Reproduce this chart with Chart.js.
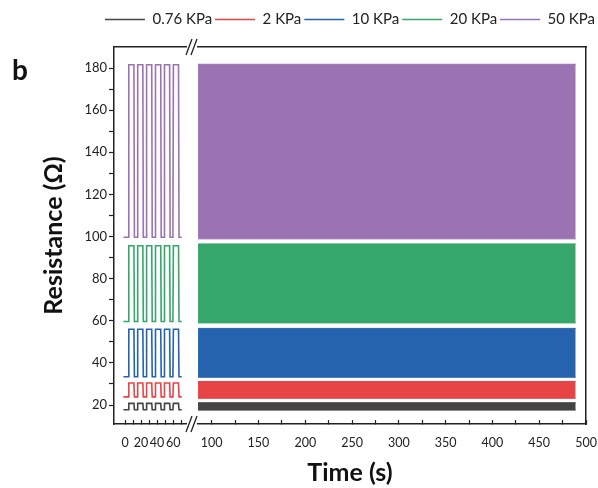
<!DOCTYPE html>
<html>
<head>
<meta charset="utf-8">
<script src="https://cdn.jsdelivr.net/npm/chart.js@4.4.0/dist/chart.umd.min.js"></script>
<style>
  html, body { margin: 0; padding: 0; background: #fff; }
</style>
</head>
<body>
<canvas id="mycanvas" width="598" height="488"></canvas>
<script>
var pressures = ["0.76 KPa", "2 KPa", "10 KPa", "20 KPa", "50 KPa"];
var colors = ["#444444", "#e74446", "#2663ae", "#35a76b", "#9b73b2"];

// first 6 loading cycles (left part of the broken axis)
var leftTime = [-2, 4.1, 4.7, 11.1, 11.7, 15.2, 15.8, 22.2, 22.8, 26.3, 26.9, 33.3, 33.9,
                37.4, 38.0, 44.5, 45.1, 48.6, 49.2, 55.6, 56.2, 59.7, 60.3, 66.7, 67.3, 70.7];
var wave076 = [17.8, 17.8, 20.8, 20.8, 17.8, 17.8, 20.8, 20.8, 17.8, 17.8, 20.8, 20.8, 17.8,
               17.8, 20.8, 20.8, 17.8, 17.8, 20.8, 20.8, 17.8, 17.8, 20.8, 20.8, 17.8, 17.8];
var wave2 = [23.9, 23.9, 30.5, 30.5, 23.9, 23.9, 30.5, 30.5, 23.9, 23.9, 30.5, 30.5, 23.9,
             23.9, 30.5, 30.5, 23.9, 23.9, 30.5, 30.5, 23.9, 23.9, 30.5, 30.5, 23.9, 23.9];
var wave10 = [33.4, 33.4, 56.0, 56.0, 33.4, 33.4, 56.0, 56.0, 33.4, 33.4, 56.0, 56.0, 33.4,
              33.4, 56.0, 56.0, 33.4, 33.4, 56.0, 56.0, 33.4, 33.4, 56.0, 56.0, 33.4, 33.4];
var wave20 = [59.7, 59.7, 95.6, 95.6, 59.7, 59.7, 95.6, 95.6, 59.7, 59.7, 95.6, 95.6, 59.7,
              59.7, 95.6, 95.6, 59.7, 59.7, 95.6, 95.6, 59.7, 59.7, 95.6, 95.6, 59.7, 59.7];
var wave50 = [99.7, 99.7, 181.6, 181.6, 99.7, 99.7, 181.6, 181.6, 99.7, 99.7, 181.6, 181.6, 99.7,
              99.7, 181.6, 181.6, 99.7, 99.7, 181.6, 181.6, 99.7, 99.7, 181.6, 181.6, 99.7, 99.7];
var waves = [wave076, wave2, wave10, wave20, wave50];

// long run (right part): min / max envelope of the fast cycling
var bandTime = [85.4, 489];
var bandTop = [21.1, 31.2, 56.4, 96.5, 181.8];
var bandBottom = [17.6, 23.2, 33.2, 59.0, 98.9];

var leftTicks = [0, 10, 20, 30, 40, 50, 60, 70];
var leftLabels = [0, 20, 40, 60];
var rightTicks = [100, 125, 150, 175, 200, 225, 250, 275, 300, 325, 350, 375, 400, 425, 450, 475, 500];
var rightLabels = [100, 150, 200, 250, 300, 350, 400, 450, 500];
var yTicks = [20, 30, 40, 50, 60, 70, 80, 90, 100, 110, 120, 130, 140, 150, 160, 170, 180];
var yLabels = [20, 40, 60, 80, 100, 120, 140, 160, 180];

Chart.defaults.font.family = "Lato";
Chart.defaults.color = "#222";

var datasets = [];
for (var i = 0; i < pressures.length; i++) {
  var pts = [];
  for (var k = 0; k < leftTime.length; k++) {
    pts.push({x: leftTime[k], y: waves[i][k]});
  }
  datasets.push({
    label: pressures[i],
    xAxisID: "xL",
    yAxisID: "y",
    data: pts,
    borderColor: colors[i],
    backgroundColor: colors[i],
    borderWidth: 1.6,
    pointRadius: 0,
    fill: false
  });
}
for (var j = 0; j < pressures.length; j++) {
  datasets.push({
    label: "",
    xAxisID: "xR",
    yAxisID: "y",
    data: [{x: bandTime[0], y: bandTop[j]}, {x: bandTime[1], y: bandTop[j]}],
    borderColor: colors[j],
    backgroundColor: colors[j],
    borderWidth: 1,
    pointRadius: 0,
    fill: "+1"
  });
  datasets.push({
    label: "",
    xAxisID: "xR",
    yAxisID: "y",
    data: [{x: bandTime[0], y: bandBottom[j]}, {x: bandTime[1], y: bandBottom[j]}],
    borderColor: colors[j],
    backgroundColor: colors[j],
    borderWidth: 1,
    pointRadius: 0,
    fill: false
  });
}

function tickList(list) {
  return function(scale) {
    scale.ticks = list.map(function(v) { return {value: v}; });
  };
}
function labelList(list) {
  return function(v) { return list.indexOf(v) >= 0 ? String(v) : ""; };
}

// break marks "//", frame gaps and the panel letter
var breakPlugin = {
  id: "axisBreak",
  afterDraw: function(chart) {
    var ctx = chart.ctx;
    var a = chart.chartArea;
    var bx = chart.scales.xR.left;
    ctx.save();
    ctx.fillStyle = "#fff";
    ctx.fillRect(bx - 7, a.top - 3, 10, 6);
    ctx.fillRect(bx - 7, a.bottom - 3, 10, 6);
    ctx.strokeStyle = "#222";
    ctx.lineWidth = 1.3;
    [a.top, a.bottom].forEach(function(yy) {
      ctx.beginPath();
      ctx.moveTo(bx - 8, yy + 8); ctx.lineTo(bx - 2, yy - 8);
      ctx.moveTo(bx - 3, yy + 8); ctx.lineTo(bx + 3, yy - 8);
      ctx.stroke();
    });
    ctx.fillStyle = "#111";
    ctx.font = "bold 28px Lato";
    ctx.textBaseline = "alphabetic";
    ctx.fillText("b", 12, 80);
    ctx.restore();
  }
};

// labels pushed down with a tall line height (tick padding would shrink the plot)
var xTickFont = {size: 12.5, lineHeight: "46px"};

var ctx = document.getElementById("mycanvas");
var chart = new Chart(ctx, {
  type: "line",
  data: {datasets: datasets},
  plugins: [breakPlugin],
  options: {
    responsive: false,
    animation: false,
    events: [],
    layout: {padding: {top: 9, right: 0, bottom: 0, left: 0}},
    plugins: {
      tooltip: {enabled: false},
      legend: {
        position: "top",
        align: "end",
        labels: {
          usePointStyle: true,
          pointStyle: "line",
          pointStyleWidth: 40,
          padding: 3,
          font: {size: 15},
          color: "#222",
          filter: function(item) { return item.text !== ""; }
        }
      },
      title: {
        display: true,
        position: "bottom",
        fullSize: false,
        text: "Time (s)",
        font: {size: 25, weight: "bold"},
        color: "#111",
        padding: {top: 4, bottom: 0}
      }
    },
    scales: {
      xL: {
        type: "linear",
        position: "bottom",
        stack: "time",
        stackWeight: 80,
        min: -13.75,
        max: 86,
        afterBuildTicks: tickList(leftTicks),
        afterFit: function(s) { s.height = 30; },
        ticks: {callback: labelList(leftLabels), autoSkip: false, maxRotation: 0, padding: 0, font: xTickFont},
        grid: {drawOnChartArea: false, tickLength: -4, tickColor: "#222", tickWidth: 1.2},
        border: {display: true, color: "#222", width: 1.5}
      },
      xR: {
        type: "linear",
        position: "bottom",
        stack: "time",
        stackWeight: 392,
        min: 81.1,
        max: 500,
        afterBuildTicks: tickList(rightTicks),
        afterFit: function(s) { s.height = 30; },
        ticks: {callback: labelList(rightLabels), autoSkip: false, maxRotation: 0, padding: 0, font: xTickFont},
        grid: {drawOnChartArea: false, tickLength: -4, tickColor: "#222", tickWidth: 1.2},
        border: {display: true, color: "#222", width: 1.5}
      },
      xTop: {
        type: "linear",
        position: "top",
        min: 0,
        max: 1,
        ticks: {display: false},
        grid: {display: false, drawTicks: false},
        border: {display: true, color: "#222", width: 1.5},
        afterFit: function(s) { s.height = 10; }
      },
      y: {
        type: "linear",
        position: "left",
        min: 11,
        max: 190,
        afterBuildTicks: tickList(yTicks),
        afterFit: function(s) { s.width = 114; },
        ticks: {callback: labelList(yLabels), autoSkip: false, padding: 2, font: {size: 13}},
        grid: {drawOnChartArea: false, tickLength: 5, tickColor: "#222", tickWidth: 1.2},
        border: {display: true, color: "#222", width: 1.5},
        title: {
          display: true,
          text: "Resistance (Ω)",
          font: {size: 25, weight: "bold"},
          color: "#111",
          padding: {top: 39, bottom: 0}
        }
      },
      yRight: {
        type: "linear",
        position: "right",
        min: 0,
        max: 1,
        ticks: {display: false},
        grid: {display: false, drawTicks: false},
        border: {display: true, color: "#222", width: 1.5},
        afterFit: function(s) { s.width = 12; }
      }
    }
  }
});
</script>
</body>
</html>
